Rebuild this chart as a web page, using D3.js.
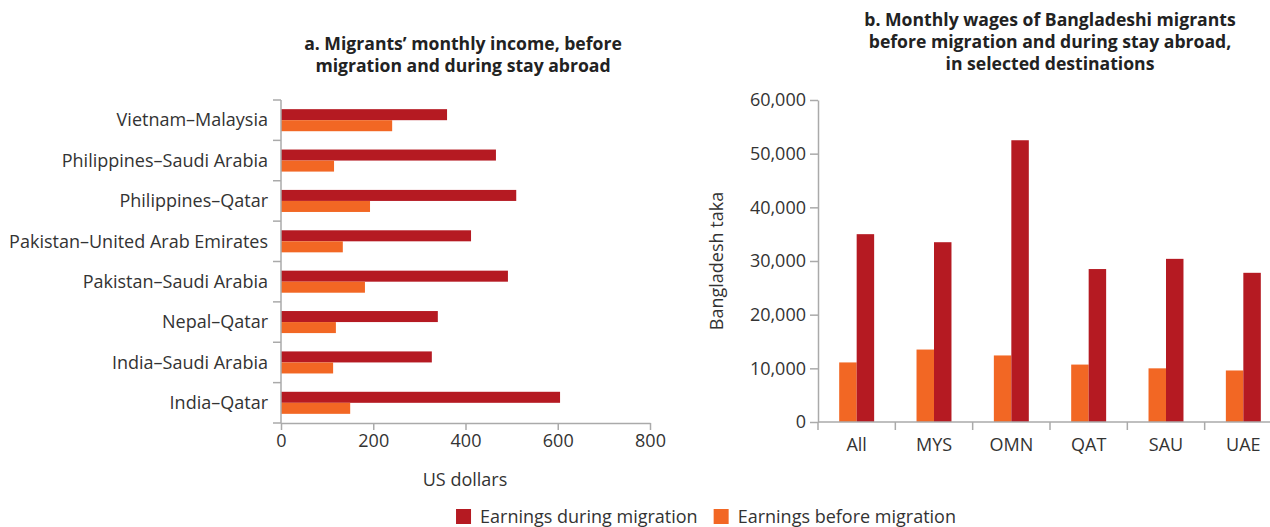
<!DOCTYPE html>
<html><head><meta charset="utf-8">
<script src="https://cdn.jsdelivr.net/npm/d3@7"></script>
<style>
body{margin:0;background:#fff;}
text{font-family:"Open Sans","Noto Sans",sans-serif;fill:#333;}
.title{font-family:"Liberation Sans Narrow","Open Sans","Noto Sans",sans-serif;font-weight:bold;font-size:17.6px;fill:#222;}
</style></head>
<body><svg id="c" width="1270" height="527"></svg>
<script>
// ---- data ----
const corridors = ["Vietnam–Malaysia","Philippines–Saudi Arabia","Philippines–Qatar","Pakistan–United Arab Emirates","Pakistan–Saudi Arabia","Nepal–Qatar","India–Saudi Arabia","India–Qatar"];
const incomeDuring = [360,466,510,412,492,340,327,605];
const incomeBefore = [241,115,193,134,182,119,113,150];
const usdTicks = [0,200,400,600,800];

const destinations = ["All","MYS","OMN","QAT","SAU","UAE"];
const wagesBefore = [11100,13500,12400,10700,10000,9600];
const wagesDuring = [35000,33500,52500,28500,30400,27800];
const takaTicks = [0,10000,20000,30000,40000,50000,60000];

const seriesNames = ["Earnings during migration","Earnings before migration"];
const RED="#B51A22", ORANGE="#F26724", AXIS="#aaaaaa";
const FS = 18;

const svg = d3.select("#c");

// ---- panel a ----
const xa = d3.scaleLinear().domain([0,800]).range([281,650]);
const ya = d3.scaleBand().domain(corridors).range([100,423]);
const ga = svg.append("g");
const bwA = ya.bandwidth()*0.273;
corridors.forEach((c,i)=>{
  const y0 = ya(c)+ya.bandwidth()*0.227;
  ga.append("rect").attr("x",xa(0)).attr("y",y0).attr("width",xa(incomeDuring[i])-xa(0)).attr("height",bwA).attr("fill",RED);
  ga.append("rect").attr("x",xa(0)).attr("y",y0+bwA).attr("width",xa(incomeBefore[i])-xa(0)).attr("height",bwA).attr("fill",ORANGE);
});
const axA = ga.append("g").attr("transform","translate(0,423)")
  .call(d3.axisBottom(xa).tickValues(usdTicks).tickSize(7).tickSizeOuter(0).tickPadding(4));
axA.selectAll("path,line").attr("stroke",AXIS).attr("stroke-width",1.5);
axA.selectAll("text").attr("font-size",FS).attr("fill","#333");
const bounds = corridors.map(c=>ya(c)).concat([ya.range()[1]]);
ga.append("line").attr("x1",xa(0)).attr("x2",xa(0)).attr("y1",100).attr("y2",423).attr("stroke",AXIS).attr("stroke-width",1.5);
bounds.forEach(b=>ga.append("line").attr("x1",xa(0)-8).attr("x2",xa(0)).attr("y1",b).attr("y2",b).attr("stroke",AXIS).attr("stroke-width",1.5));
corridors.forEach(c=>ga.append("text").attr("x",268).attr("y",ya(c)+ya.bandwidth()/2).attr("dy","0.35em")
  .attr("text-anchor","end").attr("font-size",FS).text(c));
ga.append("text").attr("x",465).attr("y",486).attr("text-anchor","middle").attr("font-size",FS).text("US dollars");
ga.append("text").attr("class","title").attr("x",463).attr("y",50).attr("text-anchor","middle").text("a. Migrants’ monthly income, before");
ga.append("text").attr("class","title").attr("x",463).attr("y",72).attr("text-anchor","middle").text("migration and during stay abroad");

// ---- panel b ----
const xb = d3.scaleBand().domain(destinations).range([818,1282]);
const yb = d3.scaleLinear().domain([0,60000]).range([422,100]);
const gb = svg.append("g");
const bwB = xb.bandwidth()*0.226;
destinations.forEach((d,i)=>{
  const x0 = xb(d)+xb.bandwidth()*0.274;
  gb.append("rect").attr("x",x0).attr("y",yb(wagesBefore[i])).attr("width",bwB).attr("height",yb(0)-yb(wagesBefore[i])).attr("fill",ORANGE);
  gb.append("rect").attr("x",x0+bwB).attr("y",yb(wagesDuring[i])).attr("width",bwB).attr("height",yb(0)-yb(wagesDuring[i])).attr("fill",RED);
});
const ayB = gb.append("g").attr("transform","translate(818,0)")
  .call(d3.axisLeft(yb).tickValues(takaTicks).tickFormat(d3.format(",")).tickSize(8).tickSizeOuter(0).tickPadding(4));
ayB.selectAll("path,line").attr("stroke",AXIS).attr("stroke-width",1.5);
ayB.selectAll("text").attr("font-size",FS).attr("fill","#333");
gb.append("line").attr("x1",818).attr("x2",1282).attr("y1",422).attr("y2",422).attr("stroke",AXIS).attr("stroke-width",1.5);
destinations.map(d=>xb(d)).forEach(b=>gb.append("line").attr("x1",b).attr("x2",b).attr("y1",422).attr("y2",430).attr("stroke",AXIS).attr("stroke-width",1.5));
destinations.forEach(d=>gb.append("text").attr("x",xb(d)+xb.bandwidth()/2).attr("y",451).attr("text-anchor","middle").attr("font-size",FS).text(d));
gb.append("text").attr("transform","translate(723,261) rotate(-90)").attr("text-anchor","middle").attr("font-size",FS).text("Bangladesh taka");
["b. Monthly wages of Bangladeshi migrants","before migration and during stay abroad,","in selected destinations"].forEach((t,i)=>
  gb.append("text").attr("class","title").attr("x",1050).attr("y",26+i*22).attr("text-anchor","middle").text(t));

// ---- legend ----
const lg = svg.append("g");
const colors=[RED,ORANGE];
let x = 0;
seriesNames.forEach((n,i)=>{
  const g = lg.append("g").attr("transform",`translate(${x},0)`);
  g.append("rect").attr("x",0).attr("y",509).attr("width",15).attr("height",15).attr("fill",colors[i]);
  const t = g.append("text").attr("x",24).attr("y",523).attr("font-size",FS).text(n);
  x += 24 + t.node().getComputedTextLength() + 16;
});
const totalW = x-16;
lg.attr("transform",`translate(${706-totalW/2},0)`);
</script></body></html>
